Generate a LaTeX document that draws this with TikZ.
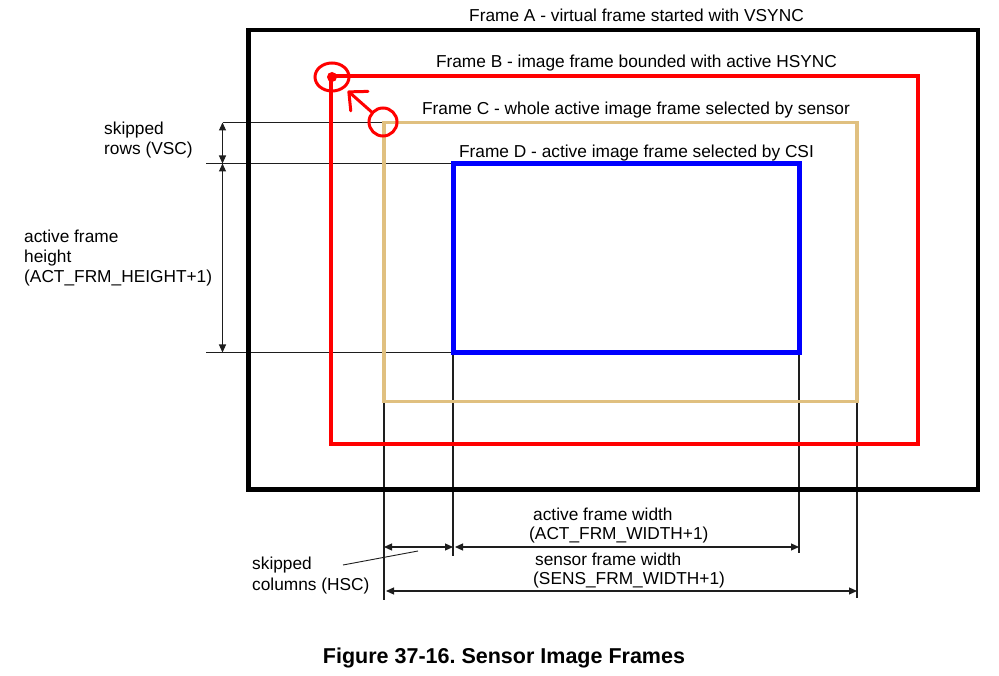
\documentclass[tikz,border=0pt]{standalone}
\usepackage{fontspec}
\setmainfont{Liberation Sans}
\usetikzlibrary{arrows.meta,shapes.geometric}
\definecolor{tanc}{RGB}{224,192,128}
\definecolor{thin}{RGB}{30,30,30}
\frenchspacing
\begin{document}
\begin{tikzpicture}[x=1pt,y=-1pt,
  lbl/.style={inner sep=0pt, font=\fontsize{17.3}{20}\selectfont},
  thinline/.style={draw=thin, line width=1.1pt},
  dimarrow/.style={thinline, {Triangle[length=8pt,width=7pt]}-{Triangle[length=8pt,width=7pt]}},
  framebox/.style={line join=miter},
]
\useasboundingbox (0,0) rectangle (999,676);
\fill[white] (0,0) rectangle (999,676);

% frame corners
\coordinate (A1) at (248.5,30);   \coordinate (A2) at (978,489.5);
\coordinate (B1) at (330.5,76);   \coordinate (B2) at (917.5,443.5);
\coordinate (C1) at (384,122.5);  \coordinate (C2) at (857,401.5);
\coordinate (D1) at (453,163.5);  \coordinate (D2) at (799,352.5);

% extension lines
\coordinate (h1a) at (223,122.5); \coordinate (h1b) at (384,122.5);
\coordinate (h2a) at (206,163.5); \coordinate (h2b) at (453,163.5);
\coordinate (h3a) at (206,352.5); \coordinate (h3b) at (453,352.5);
\coordinate (v1a) at (384,401.5); \coordinate (v1b) at (384,600);
\coordinate (v2a) at (453,352.5); \coordinate (v2b) at (453,556);
\coordinate (v3a) at (799,352.5); \coordinate (v3b) at (799,553);
\coordinate (v4a) at (857,401.5); \coordinate (v4b) at (857,598);
\draw[thinline] (h1a) -- (h1b);
\draw[thinline] (h2a) -- (h2b);
\draw[thinline] (h3a) -- (h3b);
\draw[thinline] (v1a) -- (v1b);
\draw[thinline] (v2a) -- (v2b);
\draw[thinline] (v3a) -- (v3b);
\draw[thinline] (v4a) -- (v4b);

% dimension arrows
\coordinate (ya) at (222.5,122.5); \coordinate (yb) at (222.5,163.5); \coordinate (yc) at (222.5,352.5);
\draw[dimarrow] (ya) -- (yb);
\draw[dimarrow] (yb) -- (yc);
\coordinate (xa) at (384,547); \coordinate (xb) at (453,547); \coordinate (xc) at (799,547);
\draw[dimarrow] (xa) -- (xb);
\draw[dimarrow, shorten <=2pt] (xb) -- (xc);
\coordinate (xd) at (384,591); \coordinate (xe) at (857,591);
\draw[dimarrow, shorten <=2pt] (xd) -- (xe);
% leader for skipped columns
\coordinate (la) at (343,565); \coordinate (lb) at (418,551);
\draw[thinline, line width=0.9pt] (la) -- (lb);

% frames
\draw[framebox, line width=4.5pt, black] (A1) rectangle (A2);
\draw[framebox, line width=4pt, red] (B1) rectangle (B2);
\draw[framebox, line width=3.6pt, tanc] (C1) rectangle (C2);
\draw[framebox, line width=5pt, blue] (D1) rectangle (D2);

% circles and arrow
\fill[red] (332,77) circle (5);
\node[draw=red, line width=3pt, ellipse, minimum width=34pt, minimum height=28pt, inner sep=0pt] (bigc) at (332,77) {};
\node[draw=red, line width=3pt, circle, minimum size=28pt, inner sep=0pt] (smallc) at (383,122) {};
\draw[red, line width=3pt, line cap=round, shorten >=4pt,
  -{Straight Barb[length=14pt,width=26pt,line cap=round,line join=round]}] (smallc) -- (bigc);

% frame titles
\node[lbl, anchor=base] (tA) at (636.5,22) {Frame A - virtual frame started with VSYNC};
\node[lbl, anchor=base] (tB) at (636.5,68) {Frame B - image frame bounded with active HSYNC};
\node[lbl, anchor=base] (tC) at (636,115) {Frame C - whole active image frame selected by sensor};
\node[lbl, anchor=base] (tD) at (636.5,158) {Frame D - active image frame selected by CSI};

% left labels
\node[lbl, anchor=base west] (s1) at (104,135) {skipped};
\node[lbl, anchor=base west] (s2) at (104,155) {rows (VSC)};
\node[lbl, anchor=base west] (a1) at (24,243) {active frame};
\node[lbl, anchor=base west] (a2) at (24,263) {height};
\node[lbl, anchor=base west] (a3) at (24,283) {(ACT\_FRM\_HEIGHT+1)};

% bottom labels
\node[lbl, anchor=base west] (w1) at (533,520) {active frame width};
\node[lbl, anchor=base west] (w2) at (529,539) {(ACT\_FRM\_WIDTH+1)};
\node[lbl, anchor=base west] (w3) at (535,565) {sensor frame width};
\node[lbl, anchor=base west] (w4) at (533,584) {(SENS\_FRM\_WIDTH+1)};
\node[lbl, anchor=base west] (k1) at (252,569) {skipped};
\node[lbl, anchor=base west] (k2) at (252,590) {columns (HSC)};

% caption
\node[inner sep=0pt, anchor=base, font=\fontsize{21.5}{24}\selectfont\bfseries] (cap) at (504,663) {Figure 37-16. Sensor Image Frames};
\end{tikzpicture}
\end{document}
